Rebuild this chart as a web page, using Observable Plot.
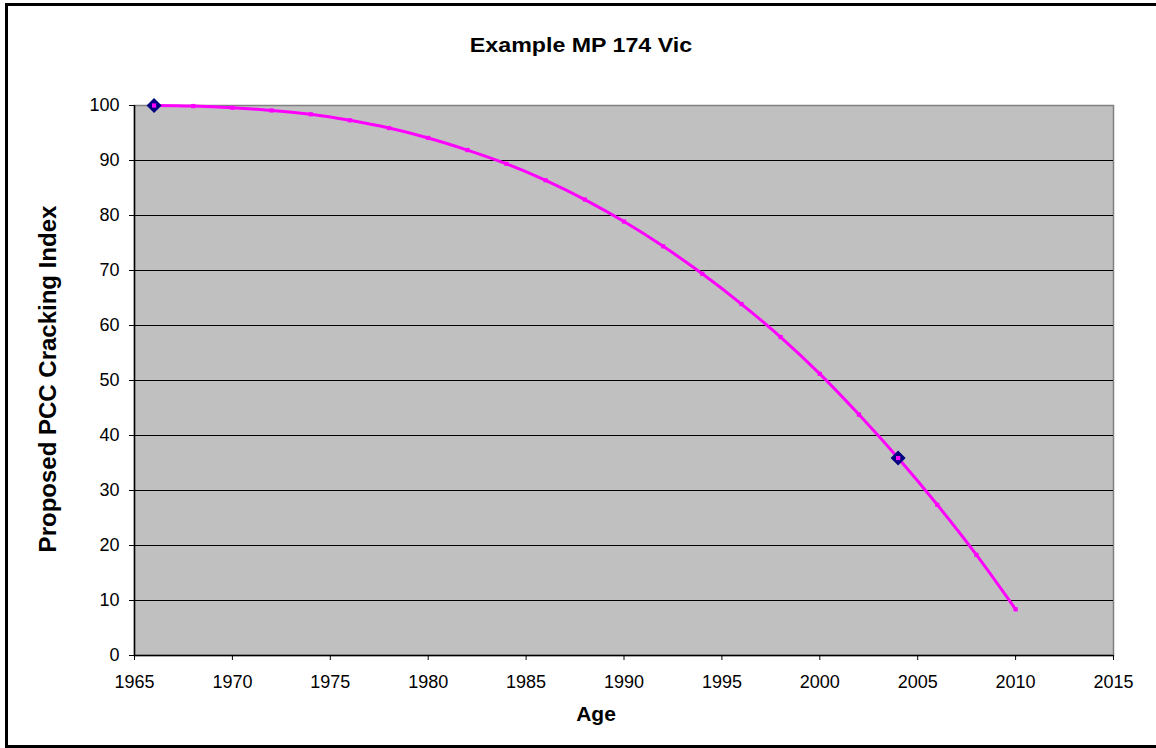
<!DOCTYPE html>
<html>
<head>
<meta charset="utf-8">
<script src="https://cdn.jsdelivr.net/npm/d3@7"></script>
<script src="https://cdn.jsdelivr.net/npm/@observablehq/plot@0.6"></script>
<style>
  html, body { margin: 0; padding: 0; background: #fff; overflow: hidden; }
  #wrap { position: relative; width: 1156px; height: 748px; overflow: hidden; font-family: "Liberation Sans", Arial, sans-serif; }
  #border { position: absolute; left: 5px; top: 3px; width: 1160px; height: 745px; box-sizing: border-box; border: 3px solid #000; pointer-events: none; }
  .lbl { position: absolute; font-weight: bold; color: #000; white-space: nowrap; line-height: 1; }
  #title { left: 581px; top: 45px; font-size: 20px; transform: translate(-50%, -50%) scaleX(1.16); }
  #xlab { left: 596px; top: 713px; font-size: 21px; transform: translate(-50%, -50%); }
  #ylab { left: 48px; top: 379px; font-size: 24px; transform: translate(-50%, -50%) rotate(-90deg); }
  svg { position: absolute; left: 0; top: 0; }
</style>
</head>
<body>
<div id="wrap">
  <div id="chart"></div>
  <div id="border"></div>
  <div class="lbl" id="title">Example MP 174 Vic</div>
  <div class="lbl" id="xlab">Age</div>
  <div class="lbl" id="ylab">Proposed PCC Cracking Index</div>
</div>
<script>
// Curve: fitted cracking index every 2 years
const years = [1966, 1968, 1970, 1972, 1974, 1976, 1978, 1980, 1982, 1984, 1986, 1988,
               1990, 1992, 1994, 1996, 1998, 2000, 2002, 2004, 2006, 2008, 2010];
const index = [100, 99.9, 99.6, 99.1, 98.4, 97.3, 95.9, 94.1, 91.9, 89.4, 86.4, 82.9,
               78.9, 74.4, 69.4, 63.9, 57.9, 51.2, 43.8, 35.9, 27.4, 18.3, 8.4];
// Observed points (diamonds)
const obsYears = [1966, 2004];
const obsIndex = [100, 35.9];
// Axis ticks
const xTicks = [1965, 1970, 1975, 1980, 1985, 1990, 1995, 2000, 2005, 2010, 2015];
const yTicks = [0, 10, 20, 30, 40, 50, 60, 70, 80, 90, 100];
const gridY = [10, 20, 30, 40, 50, 60, 70, 80, 90];

const curve = years.map((x, i) => ({x, y: index[i]}));
const obs = obsYears.map((x, i) => ({x, y: obsIndex[i]}));

const chart = Plot.plot({
  width: 1156,
  height: 748,
  marginLeft: 134,
  marginRight: 43,
  marginTop: 105,
  marginBottom: 93,
  style: { fontFamily: "'Liberation Sans', Arial, sans-serif", background: "transparent", color: "#000" },
  x: { domain: [1965, 2015] },
  y: { domain: [0, 100] },
  marks: [
    Plot.frame({ fill: "#c0c0c0", stroke: "#808080", strokeWidth: 1.5 }),
    Plot.ruleY(gridY, { stroke: "#000", strokeWidth: 1.2 }),
    Plot.ruleX([1965], { stroke: "#000", strokeWidth: 1.5 }),
    Plot.ruleY([0], { stroke: "#000", strokeWidth: 1.5 }),
    Plot.axisX({ ticks: xTicks, tickFormat: d => String(d), tickSize: 5, tickPadding: 15, fontSize: 18, label: null, stroke: "#000" }),
    Plot.axisY({ ticks: yTicks, tickSize: 5, tickPadding: 10, fontSize: 18, label: null, stroke: "#000" }),
    Plot.line(curve, { x: "x", y: "y", stroke: "#ff00ff", strokeWidth: 3, curve: "catmull-rom" }),
    Plot.dot(obs, { x: "x", y: "y", symbol: "diamond2", r: 5.5, fill: "#000080", stroke: "#000080", strokeWidth: 2 }),
    Plot.dot(curve, { x: "x", y: "y", symbol: "square", r: 2.4, fill: "#ff00ff", stroke: "none" })
  ]
});
document.getElementById("chart").appendChild(chart);
</script>
</body>
</html>
